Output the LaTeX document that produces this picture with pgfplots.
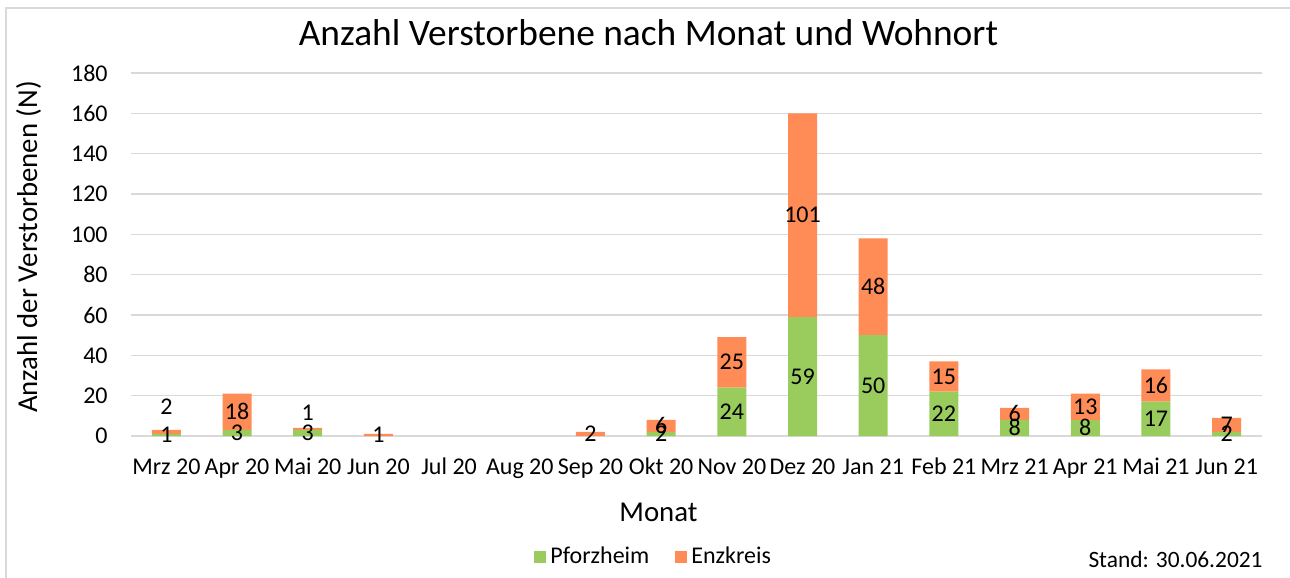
\documentclass[border=0pt]{standalone}
\usepackage{fontspec}
\setmainfont{Carlito}
\usepackage{pgfplots}
\usepackage{pgfplotstable}
\pgfplotsset{compat=1.18}

\definecolor{pfgreen}{RGB}{153,204,92}
\definecolor{enzorange}{RGB}{255,140,86}
\definecolor{gridgray}{RGB}{217,217,217}

% label text #1, raised by #2 (data units) above the segment centre
\protected\def\lab#1#2{\pgfmathsetlengthmacro\labshift{#2*1.00833pt-3.8pt}\smash{\raisebox{\labshift}{#1}}}

\pgfplotstableread{
x  P   Plab         E   Elab
0  1   \lab{1}{0}   2   \lab{2}{12.4}
1  3   \lab{3}{0}   18  \lab{18}{0}
2  3   \lab{3}{0}   1   \lab{1}{7.9}
3  0   {}           1   \lab{1}{0}
4  0   {}           0   {}
5  0   {}           0   {}
6  0   {}           2   \lab{2}{0}
7  2   \lab{2}{0}   6   \lab{6}{0}
8  24  \lab{24}{0}  25  \lab{25}{0}
9  59  \lab{59}{0}  101 \lab{101}{0}
10 50  \lab{50}{0}  48  \lab{48}{0}
11 22  \lab{22}{0}  15  \lab{15}{0}
12 8   \lab{8}{0}   6   \lab{6}{0}
13 8   \lab{8}{0}   13  \lab{13}{0}
14 17  \lab{17}{0}  16  \lab{16}{0}
15 2   \lab{2}{0}   7   \lab{7}{0}
}\deaths

\begin{document}
\begin{tikzpicture}
\useasboundingbox (-65.5pt,-71pt) rectangle (579.5pt,218pt);
\begin{axis}[
at={(0,0)}, anchor=south west,
scale only axis,
width=565.5pt,
height=181.5pt,
font=\fontsize{12}{14}\selectfont,
/pgf/number format/assume math mode=true,
ybar stacked,
bar width=14.5pt,
xmin=-0.5, xmax=15.5,
ymin=0, ymax=180,
xtick={0,...,15},
xticklabels={Mrz 20,Apr 20,Mai 20,Jun 20,Jul 20,Aug 20,Sep 20,Okt 20,Nov 20,Dez 20,Jan 21,Feb 21,Mrz 21,Apr 21,Mai 21,Jun 21},
ytick={0,20,...,180},
xticklabel style={anchor=base, yshift=-19pt, inner sep=0pt},
yticklabel style={anchor=east, xshift=-11.5pt, inner sep=0pt},
tick style={draw=none},
axis line style={draw=none},
ymajorgrids,
grid style={gridgray, line width=0.7pt},
legend style={at={(0.463,-0.333)}, anchor=center, draw=none, fill=none,
  legend columns=2, font=\fontsize{12}{14}\selectfont,
  /tikz/every even column/.append style={column sep=11pt}},
legend cell align=left,
legend image code/.code={\fill[#1, draw=none] (0pt,-3pt) rectangle (6pt,3pt);},
nodes near coords,
point meta=explicit symbolic,
every node near coord/.append style={anchor=center, inner sep=0pt, font=\fontsize{12}{14}\selectfont},
]
\addplot[fill=pfgreen, draw=none] table[x=x, y=P, meta=Plab] {\deaths};
\addlegendentry{Pforzheim}
\addplot[fill=enzorange, draw=none] table[x=x, y=E, meta=Elab] {\deaths};
\addlegendentry{Enzkreis}
\end{axis}
\draw[gridgray, line width=0.9pt] (-62.5pt,-71pt) -- (-62.5pt,214pt) -- (579.5pt,214pt);
\node[anchor=base, font=\fontsize{18.7}{22}\selectfont] at (258.75pt,195pt) {Anzahl Verstorbene nach Monat und Wohnort};
\node[anchor=base, font=\fontsize{14.4}{17}\selectfont] at (263.75pt,-42.5pt) {Monat};
\node[anchor=base, rotate=90, font=\fontsize{14.4}{17}\selectfont] at (-47pt,94.5pt) {Anzahl der Verstorbenen (N)};
\node[anchor=base east, inner sep=0pt, font=\fontsize{11.7}{14}\selectfont] at (566pt,-65.5pt) {Stand: 30.06.2021};
\end{tikzpicture}
\end{document}
